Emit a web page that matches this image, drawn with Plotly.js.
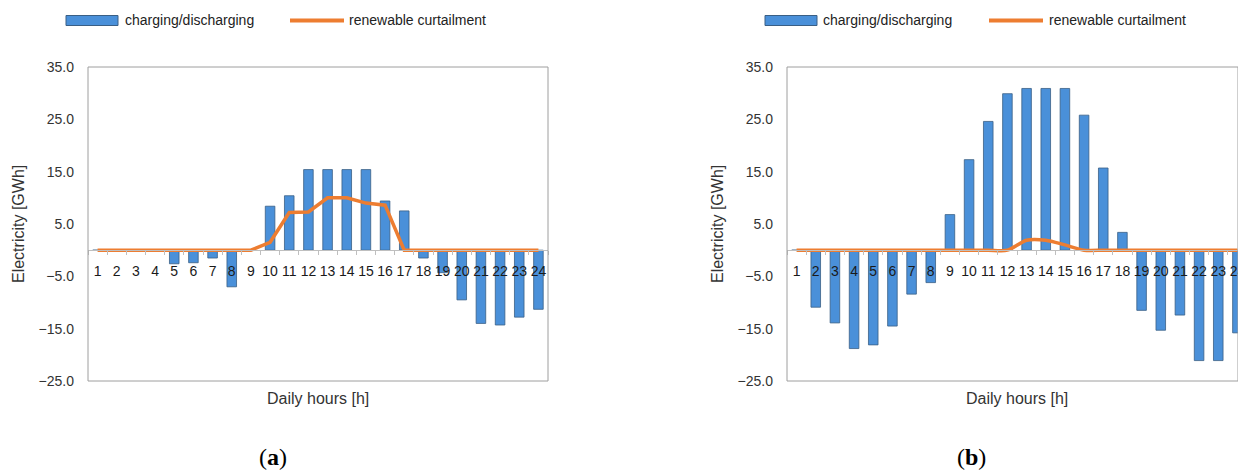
<!DOCTYPE html>
<html>
<head>
<meta charset="utf-8">
<script src="https://cdn.plot.ly/plotly-3.0.1.min.js"></script>
<style>
  html, body { margin: 0; padding: 0; background: #ffffff; }
  #chart { width: 1238px; height: 474px; }
</style>
</head>
<body>
<div id="chart"></div>
<script>
// ---- data ----
const hours = ['1','2','3','4','5','6','7','8','9','10','11','12','13','14','15','16','17','18','19','20','21','22','23','24'];
const chargeA = [0, 0, 0, 0, -2.6, -2.4, -1.5, -7.0, 0, 8.4, 10.4, 15.4, 15.4, 15.4, 15.4, 9.4, 7.5, -1.5, -4.3, -9.5, -14.0, -14.3, -12.8, -11.3];
const curtailA = [0, 0, 0, 0, 0, 0, 0, 0, 0, 1.5, 7.2, 7.3, 10.0, 10.0, 9.0, 8.6, 0, 0, 0, 0, 0, 0, 0, 0];
const chargeB = [0, -10.9, -13.9, -18.8, -18.1, -14.5, -8.4, -6.2, 6.8, 17.3, 24.6, 29.9, 30.9, 30.9, 30.9, 25.8, 15.7, 3.4, -11.5, -15.3, -12.4, -21.1, -21.1, -15.8];
const curtailB = [0, 0, 0, 0, 0, 0, 0, 0, 0, 0, 0, 0, 1.9, 1.9, 1.0, 0, 0, 0, 0, 0, 0, 0, 0, 0];
const yTicks = [-25, -15, -5, 5, 15, 25, 35];
const seriesNames = ['charging/discharging', 'renewable curtailment'];
const panelLabels = ['a', 'b'];

// ---- style ----
const W = 1238, H = 474;
const BLUE = '#4A90D9', BLUE_EDGE = '#3A5F85', ORANGE = '#ED7D31';
const BORDER = '#9E9E9E';
const FONT = 'Liberation Sans, Arial, sans-serif';
const px = x => x / W;
const py = y => 1 - y / H;

const yDom = [py(381), py(67)];
const zeroPos = yDom[0] + (yDom[1] - yDom[0]) * (25 / 60);

function barTrace(y, xa, ya) {
  return {
    type: 'bar', x: hours, y: y, xaxis: xa, yaxis: ya,
    marker: { color: BLUE, line: { color: BLUE_EDGE, width: 0.8 } },
    showlegend: false, hoverinfo: 'x+y'
  };
}
function lineTrace(y, xa, ya, shape) {
  return {
    type: 'scatter', mode: 'lines', x: hours, y: y, xaxis: xa, yaxis: ya,
    line: { color: ORANGE, width: 3.5, shape: shape, smoothing: 0.8 },
    showlegend: false, hoverinfo: 'x+y'
  };
}

const data = [
  barTrace(chargeA, 'x', 'y'),
  lineTrace(curtailA, 'x', 'y', 'linear'),
  barTrace(chargeB, 'x2', 'y2'),
  lineTrace(curtailB, 'x2', 'y2', 'spline')
];

function xAxis(domain, range) {
  return {
    type: 'category', domain: domain, range: range,
    anchor: 'free', position: zeroPos,
    showline: true, linecolor: '#BFBFBF', linewidth: 1,
    ticks: 'outside', tickson: 'boundaries', ticklen: 4, tickcolor: '#BFBFBF',
    tickangle: 0,
    tickfont: { family: FONT, size: 14, color: '#1a1a1a' },
    ticklabelstandoff: 8,
    showgrid: false, zeroline: false, fixedrange: true
  };
}
function yAxis(anchor) {
  return {
    domain: yDom, anchor: anchor, range: [-25, 35],
    tickvals: yTicks, tickformat: '.1f',
    ticks: '', ticklabelstandoff: 13,
    tickfont: { family: FONT, size: 14, color: '#333333' },
    showgrid: false, zeroline: false, showline: false, fixedrange: true
  };
}

const annotations = [];
const shapes = [];

// plot borders
[['x', 'y'], ['x2', 'y2']].forEach(([xa, ya]) => {
  shapes.push({ type: 'rect', xref: xa + ' domain', yref: ya + ' domain', x0: 0, x1: 1, y0: 0, y1: 1,
    line: { color: BORDER, width: 1 }, layer: 'above' });
});

// axis titles
function axisTitles(cx) {
  annotations.push({ text: 'Daily hours [h]', xref: 'paper', yref: 'paper', x: px(cx), y: py(398),
    xanchor: 'center', yanchor: 'middle', showarrow: false, font: { family: FONT, size: 16, color: '#333333' } });
}
axisTitles(318);
axisTitles(1017);
[18, 717].forEach(x => {
  annotations.push({ text: 'Electricity [GWh]', xref: 'paper', yref: 'paper', x: px(x), y: py(224),
    xanchor: 'center', yanchor: 'middle', textangle: -90, showarrow: false,
    font: { family: FONT, size: 16, color: '#333333' } });
});

// legends (drawn manually to match the wide swatches)
function legend(x0, xt1, xl0, xt2) {
  const yc = 20.5;
  shapes.push({ type: 'rect', xref: 'paper', yref: 'paper', x0: px(x0), x1: px(x0 + 52), y0: py(yc + 5), y1: py(yc - 5),
    fillcolor: BLUE, line: { color: BLUE_EDGE, width: 1 } });
  annotations.push({ text: seriesNames[0], xref: 'paper', yref: 'paper', x: px(xt1), y: py(yc),
    xanchor: 'left', yanchor: 'middle', showarrow: false, font: { family: FONT, size: 14, color: '#222222' } });
  shapes.push({ type: 'line', xref: 'paper', yref: 'paper', x0: px(xl0), x1: px(xl0 + 54), y0: py(yc), y1: py(yc),
    line: { color: ORANGE, width: 4 } });
  annotations.push({ text: seriesNames[1], xref: 'paper', yref: 'paper', x: px(xt2), y: py(yc),
    xanchor: 'left', yanchor: 'middle', showarrow: false, font: { family: FONT, size: 14, color: '#222222' } });
}
legend(66, 123, 290, 347);
legend(765, 821, 989, 1047);

// panel captions
[[273, 0], [972, 1]].forEach(([x, i]) => {
  annotations.push({ text: '(<b>' + panelLabels[i] + '</b>)', xref: 'paper', yref: 'paper', x: px(x), y: py(457),
    xanchor: 'center', yanchor: 'middle', showarrow: false, borderpad: 0,
    font: { family: 'Liberation Serif, DejaVu Serif, serif', size: 24, color: '#000000' } });
});

const layout = {
  width: W, height: H,
  margin: { l: 0, r: 0, t: 0, b: 0, pad: 0 },
  paper_bgcolor: '#ffffff', plot_bgcolor: '#ffffff',
  bargap: 0.5,
  showlegend: false,
  xaxis: xAxis([px(88), px(548)], [-0.5, 23.5]),
  yaxis: yAxis('x'),
  xaxis2: xAxis([px(787), 1], [-0.5, 23.03]),
  yaxis2: yAxis('x2'),
  shapes: shapes,
  annotations: annotations
};

Plotly.newPlot('chart', data, layout, { displayModeBar: false, staticPlot: true });
</script>
</body>
</html>
